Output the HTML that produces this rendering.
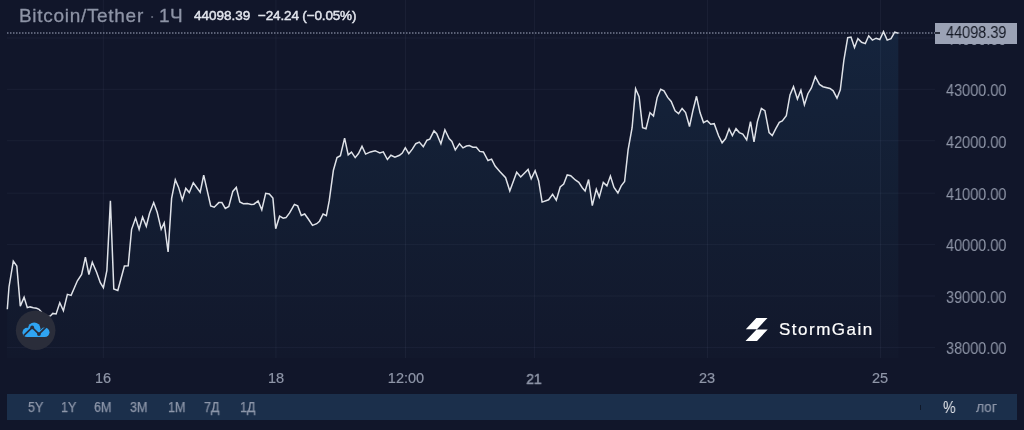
<!DOCTYPE html>
<html><head><meta charset="utf-8">
<style>
*{margin:0;padding:0;box-sizing:border-box}
html,body{width:1024px;height:430px;overflow:hidden;background:#11162a;font-family:"Liberation Sans",sans-serif}
.a{position:absolute;white-space:nowrap;will-change:transform;line-height:1}
svg{position:absolute;left:0;top:0}
.ttl{left:18.6px;top:5.5px;font-size:19px;color:#8e94a6;letter-spacing:0.7px;-webkit-text-stroke:0.3px #8e94a6}
.ttl2{left:159px;top:5.5px;font-size:19px;color:#8e94a6;letter-spacing:0.5px;-webkit-text-stroke:0.3px #8e94a6}
.dot{left:149px;top:5.5px;font-size:19px;color:#5b6172}
.pr{top:8.8px;font-size:13.5px;color:#e3e6ee;-webkit-text-stroke:0.45px #e3e6ee}
.ax{left:946px;font-size:16px;color:#8f96a8;transform-origin:0 0;transform:scaleX(0.905)}
.tl{top:371px;font-size:14.5px;color:#8f96a8;-webkit-text-stroke:0.2px #8f96a8;transform:translateX(-50%)}
.bar{left:7px;top:394px;width:1010px;height:26px;background:#1b2f4b}
.bt{top:399.8px;font-size:14px;color:#8d96a9;-webkit-text-stroke:0.25px #8d96a9;transform-origin:0 0;transform:scaleX(0.9)}
</style></head><body>
<svg width="1024" height="430" viewBox="0 0 1024 430">
<defs>
<linearGradient id="ag" x1="0" y1="30" x2="0" y2="358" gradientUnits="userSpaceOnUse">
<stop offset="0" stop-color="#15243d"/>
<stop offset="0.5" stop-color="#131e33"/>
<stop offset="1" stop-color="#12182c"/>
</linearGradient>
</defs>
<path d="M7.3,309.3 L9,287 L13.3,261.1 L16.8,266 L20.3,306.1 L24.1,297.2 L27.3,307.7 L30.1,306.9 L33.3,307.7 L36.6,308.2 L39,309.3 L41.5,312 L46.5,317 L50.4,315.9 L52.8,313.4 L56.1,313.9 L59.8,302.8 L63.4,310.7 L67.4,294.4 L71.1,295.4 L77.4,280.8 L81.6,274.5 L85.4,257.2 L88.9,274.5 L92.3,262.2 L96.6,272.3 L100.3,282.7 L103.4,287.7 L106.9,270.3 L110.4,200.7 L113.8,289 L117.8,290.5 L124.4,266 L128.2,265.7 L131.6,229.3 L135.6,218.1 L139.1,229.3 L142.6,217 L146.3,226.3 L149.5,213.5 L153.7,202.6 L157.2,212.3 L161.2,229.3 L164.2,222.8 L168.1,251.9 L171.6,198.4 L175.3,179.8 L178.6,187.4 L182.3,200 L185.8,188.4 L189.3,192.6 L193.3,182.8 L200.2,192.1 L203.7,175.1 L210.7,206 L214.2,207.2 L218.8,202.6 L221.9,202.6 L225.3,208.4 L228.8,206.5 L232.8,191.4 L236.3,187.4 L239.8,201.9 L243.3,203.7 L247.4,203.5 L251.2,204.5 L253.9,204.2 L258.1,200.9 L261.8,209.8 L265.7,193.3 L269.3,193.9 L272.9,198.1 L275.7,228.8 L279.6,216.2 L283.2,218.2 L286,217.6 L289.6,212.9 L294.4,204.5 L297.7,205.9 L301.3,215.4 L304.7,214 L308.3,219 L312.5,225.4 L316.7,223.7 L319.5,221.2 L323.1,214 L326.4,215.7 L329.2,200.9 L333.4,170.2 L337,157.6 L340.4,155.7 L344.6,138.1 L348.2,154.9 L351.5,152.1 L355.2,157.6 L358.5,153.5 L362,146.3 L365.6,154.1 L370.5,151.9 L375.1,150.7 L379.8,153 L383.3,151.9 L387.4,159.5 L390.9,155.3 L394.9,157.2 L399.5,155.3 L402.3,153 L405.3,147.7 L408.8,153.7 L412.3,149.1 L415.8,143.7 L419.3,142.1 L423.3,146.7 L427,140.2 L429.8,139.1 L434,130.9 L436.7,133.7 L440.9,143.7 L444.9,129.8 L449.1,138.6 L451.9,141.4 L455.3,150 L459.5,143.7 L463,147.9 L466.5,146 L469.3,145.6 L472.8,147.2 L476.3,147.2 L479.8,151.4 L483.4,152 L488,160.5 L491.6,159.1 L495.1,166 L499.8,171.4 L505.6,177.7 L509.8,190.9 L516.7,172.3 L520.7,177 L528.1,169.5 L531.2,178.8 L535.1,170.7 L538.6,180.7 L542.1,202.1 L548.6,199.8 L552.6,194.4 L556.3,200.2 L560.2,187 L563.7,184 L567.2,174.9 L570.7,175.8 L575.3,180 L578.8,182.3 L582.3,187.7 L585.1,190.9 L588.6,179.5 L592.3,205.6 L596.3,189.3 L599.3,197 L603.3,182.4 L606.9,185.9 L610.4,176.1 L614,187.5 L617.9,193 L621.2,185.9 L624.6,181.5 L628.1,149.8 L632.1,127.7 L635.6,88.8 L639.1,96.7 L642.6,127.7 L646,128.8 L650,112.6 L653.5,116 L657.2,97.4 L660.7,89.3 L664,90.9 L667.7,97.4 L671.2,101.4 L675.1,110.9 L678.6,113.7 L682.1,108.4 L685.6,112.6 L689.5,126.5 L693,110.2 L696.5,96.3 L700,112.6 L703.5,122.6 L707.2,120.7 L710.7,124.2 L714.2,123.7 L718.6,135.8 L722.1,142.8 L725.6,138.6 L729.1,128.8 L732.4,135.5 L736,128.7 L739.3,132.6 L742.8,134 L746.7,139.8 L750.5,121.6 L754,141.9 L757.4,121.6 L761.4,108.4 L764.9,110.7 L769.1,132.6 L772.3,135.6 L775.8,128.6 L779.3,122.3 L782.3,120.9 L786.3,115.8 L790,94.9 L793.5,86.7 L797.4,99.1 L800.9,90.2 L804.4,104.7 L807.9,93.7 L811.4,87.9 L815.3,76.7 L819.5,84.4 L823,86.7 L830,88.4 L833.2,90.8 L837,98.2 L840.3,89.9 L843.9,60 L847.7,37.7 L851,37.1 L854.5,47.5 L857.9,38.6 L861.6,42.3 L865.3,43.6 L868.7,35.8 L872.4,40.1 L876.1,38.2 L879.8,39.5 L883.5,31.6 L887.2,40.1 L891,38.6 L894.7,32.1 L898.3,33.2 L898.3,358 L7,358 Z" fill="url(#ag)"/>
<g stroke="rgba(200,210,255,0.05)" stroke-width="1"><line x1="7" y1="38" x2="935" y2="38"/><line x1="7" y1="89.3" x2="935" y2="89.3"/><line x1="7" y1="140.75" x2="935" y2="140.75"/><line x1="7" y1="193.2" x2="935" y2="193.2"/><line x1="7" y1="244.4" x2="935" y2="244.4"/><line x1="7" y1="296" x2="935" y2="296"/><line x1="7" y1="347.4" x2="935" y2="347.4"/><line x1="103.3" y1="0" x2="103.3" y2="358"/><line x1="275.95" y1="0" x2="275.95" y2="358"/><line x1="405.5" y1="0" x2="405.5" y2="358"/><line x1="534.6" y1="0" x2="534.6" y2="358"/><line x1="707.5" y1="0" x2="707.5" y2="358"/><line x1="880.5" y1="0" x2="880.5" y2="358"/></g>
<line x1="7" y1="33.05" x2="935" y2="33.05" stroke="#737a8f" stroke-width="1.6" stroke-dasharray="1.5 1.5"/>
<path d="M7.3,309.3 L9,287 L13.3,261.1 L16.8,266 L20.3,306.1 L24.1,297.2 L27.3,307.7 L30.1,306.9 L33.3,307.7 L36.6,308.2 L39,309.3 L41.5,312 L46.5,317 L50.4,315.9 L52.8,313.4 L56.1,313.9 L59.8,302.8 L63.4,310.7 L67.4,294.4 L71.1,295.4 L77.4,280.8 L81.6,274.5 L85.4,257.2 L88.9,274.5 L92.3,262.2 L96.6,272.3 L100.3,282.7 L103.4,287.7 L106.9,270.3 L110.4,200.7 L113.8,289 L117.8,290.5 L124.4,266 L128.2,265.7 L131.6,229.3 L135.6,218.1 L139.1,229.3 L142.6,217 L146.3,226.3 L149.5,213.5 L153.7,202.6 L157.2,212.3 L161.2,229.3 L164.2,222.8 L168.1,251.9 L171.6,198.4 L175.3,179.8 L178.6,187.4 L182.3,200 L185.8,188.4 L189.3,192.6 L193.3,182.8 L200.2,192.1 L203.7,175.1 L210.7,206 L214.2,207.2 L218.8,202.6 L221.9,202.6 L225.3,208.4 L228.8,206.5 L232.8,191.4 L236.3,187.4 L239.8,201.9 L243.3,203.7 L247.4,203.5 L251.2,204.5 L253.9,204.2 L258.1,200.9 L261.8,209.8 L265.7,193.3 L269.3,193.9 L272.9,198.1 L275.7,228.8 L279.6,216.2 L283.2,218.2 L286,217.6 L289.6,212.9 L294.4,204.5 L297.7,205.9 L301.3,215.4 L304.7,214 L308.3,219 L312.5,225.4 L316.7,223.7 L319.5,221.2 L323.1,214 L326.4,215.7 L329.2,200.9 L333.4,170.2 L337,157.6 L340.4,155.7 L344.6,138.1 L348.2,154.9 L351.5,152.1 L355.2,157.6 L358.5,153.5 L362,146.3 L365.6,154.1 L370.5,151.9 L375.1,150.7 L379.8,153 L383.3,151.9 L387.4,159.5 L390.9,155.3 L394.9,157.2 L399.5,155.3 L402.3,153 L405.3,147.7 L408.8,153.7 L412.3,149.1 L415.8,143.7 L419.3,142.1 L423.3,146.7 L427,140.2 L429.8,139.1 L434,130.9 L436.7,133.7 L440.9,143.7 L444.9,129.8 L449.1,138.6 L451.9,141.4 L455.3,150 L459.5,143.7 L463,147.9 L466.5,146 L469.3,145.6 L472.8,147.2 L476.3,147.2 L479.8,151.4 L483.4,152 L488,160.5 L491.6,159.1 L495.1,166 L499.8,171.4 L505.6,177.7 L509.8,190.9 L516.7,172.3 L520.7,177 L528.1,169.5 L531.2,178.8 L535.1,170.7 L538.6,180.7 L542.1,202.1 L548.6,199.8 L552.6,194.4 L556.3,200.2 L560.2,187 L563.7,184 L567.2,174.9 L570.7,175.8 L575.3,180 L578.8,182.3 L582.3,187.7 L585.1,190.9 L588.6,179.5 L592.3,205.6 L596.3,189.3 L599.3,197 L603.3,182.4 L606.9,185.9 L610.4,176.1 L614,187.5 L617.9,193 L621.2,185.9 L624.6,181.5 L628.1,149.8 L632.1,127.7 L635.6,88.8 L639.1,96.7 L642.6,127.7 L646,128.8 L650,112.6 L653.5,116 L657.2,97.4 L660.7,89.3 L664,90.9 L667.7,97.4 L671.2,101.4 L675.1,110.9 L678.6,113.7 L682.1,108.4 L685.6,112.6 L689.5,126.5 L693,110.2 L696.5,96.3 L700,112.6 L703.5,122.6 L707.2,120.7 L710.7,124.2 L714.2,123.7 L718.6,135.8 L722.1,142.8 L725.6,138.6 L729.1,128.8 L732.4,135.5 L736,128.7 L739.3,132.6 L742.8,134 L746.7,139.8 L750.5,121.6 L754,141.9 L757.4,121.6 L761.4,108.4 L764.9,110.7 L769.1,132.6 L772.3,135.6 L775.8,128.6 L779.3,122.3 L782.3,120.9 L786.3,115.8 L790,94.9 L793.5,86.7 L797.4,99.1 L800.9,90.2 L804.4,104.7 L807.9,93.7 L811.4,87.9 L815.3,76.7 L819.5,84.4 L823,86.7 L830,88.4 L833.2,90.8 L837,98.2 L840.3,89.9 L843.9,60 L847.7,37.7 L851,37.1 L854.5,47.5 L857.9,38.6 L861.6,42.3 L865.3,43.6 L868.7,35.8 L872.4,40.1 L876.1,38.2 L879.8,39.5 L883.5,31.6 L887.2,40.1 L891,38.6 L894.7,32.1 L898.3,33.2" fill="none" stroke="#dfe2e8" stroke-width="1.5" stroke-linejoin="miter" stroke-miterlimit="4"/>
<circle cx="35.65" cy="330.3" r="19.8" fill="#2a2d3a"/>
<g fill="#2fa4f2">
<circle cx="27.1" cy="332.4" r="4.6"/><circle cx="34.2" cy="328.7" r="6.3"/><circle cx="44.7" cy="332.3" r="4.8"/>
<rect x="27" y="330" width="18" height="7"/>
</g>
<path d="M23.7,335.6 L32.2,327.4 L38.9,334.1 L45.5,327.6 L48,325" fill="none" stroke="#2a2d3a" stroke-width="1.8"/>
<circle cx="32.2" cy="327.4" r="1.9" fill="#2a2d3a"/><circle cx="38.9" cy="334.1" r="1.9" fill="#2a2d3a"/>
<path d="M756.3,318 L767.5,318 L757,329.2 L745.8,329.2 Z M756.5,329.6 L767.7,329.6 L757,340.9 L745.5,340.9 Z" fill="#ffffff"/>
</svg>
<div class="a ttl">Bitcoin/Tether</div>
<div class="a dot">·</div>
<div class="a ttl2">1Ч</div>
<div class="a pr" style="left:194px">44098.39</div>
<div class="a pr" style="left:258px;letter-spacing:-0.15px">−24.24 (−0.05%)</div>
<div class="a ax" style="top:31.90px">44000.00</div><div class="a ax" style="top:83.20px">43000.00</div><div class="a ax" style="top:134.65px">42000.00</div><div class="a ax" style="top:187.10px">41000.00</div><div class="a ax" style="top:238.30px">40000.00</div><div class="a ax" style="top:289.90px">39000.00</div><div class="a ax" style="top:341.30px">38000.00</div>
<div class="a" style="left:935px;top:23px;width:82px;height:20.5px;background:#9ba2b5"></div>
<div class="a" style="left:935px;top:32.2px;width:5px;height:1.6px;background:#2b303e"></div>
<div class="a ax" style="top:25.449999999999996px;color:#161a26">44098.39</div>
<div class="a tl" style="left:103.30px;">16</div><div class="a tl" style="left:275.95px;">18</div><div class="a tl" style="left:405.50px;">12:00</div><div class="a tl" style="left:533.80px;font-size:15.5px;top:371.1px;-webkit-text-stroke:0.55px #8c93a5;transform:translateX(-50%) scaleX(0.9);">21</div><div class="a tl" style="left:706.50px;">23</div><div class="a tl" style="left:880.20px;">25</div>
<div class="a" style="left:779px;top:320.5px;font-size:17px;color:#fff;letter-spacing:1.5px;-webkit-text-stroke:0.2px #fff">StormGain</div>
<div class="a bar"></div>
<div class="a bt" style="left:27.50px">5Y</div><div class="a bt" style="left:60.75px">1Y</div><div class="a bt" style="left:93.75px">6M</div><div class="a bt" style="left:130.00px">3M</div><div class="a bt" style="left:167.50px">1M</div><div class="a bt" style="left:203.75px">7Д</div><div class="a bt" style="left:239.50px">1Д</div>
<div class="a" style="left:920.2px;top:404.6px;width:1px;height:5px;background:#0f1829"></div>
<div class="a" style="left:943.3px;top:398.7px;font-size:17px;color:#e8eaef;transform-origin:0 0;transform:scaleX(0.83)">%</div>
<div class="a bt" style="left:976px;top:400px;font-size:14.5px;transform:scaleX(0.95)">лог</div>
</body></html>
